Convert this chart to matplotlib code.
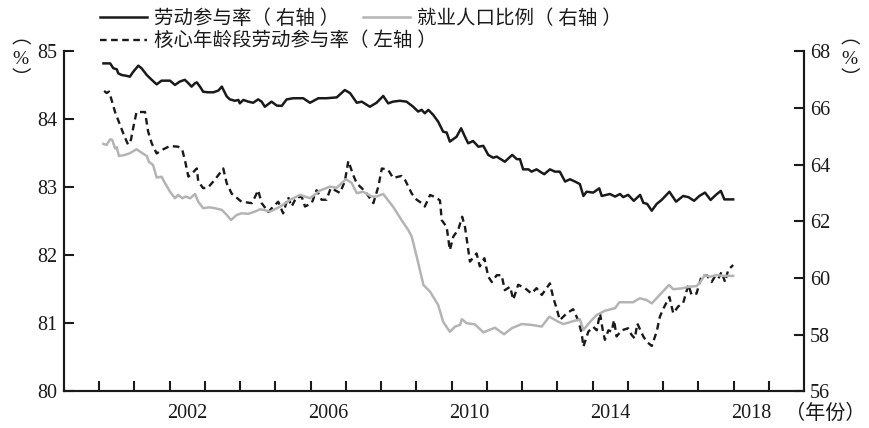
import matplotlib
matplotlib.use('Agg')
import matplotlib.pyplot as plt
from matplotlib.lines import Line2D

plt.rcParams['font.family'] = ['Liberation Serif', 'Noto Sans CJK SC']

# 劳动参与率（右轴）
lfpr_t = [2000.12, 2000.31, 2000.40, 2000.50, 2000.54, 2000.64, 2000.78, 2000.87, 2000.97, 2001.11,
          2001.20, 2001.35, 2001.49, 2001.63, 2001.77, 2001.91, 2002.01, 2002.15, 2002.29, 2002.43,
          2002.53, 2002.62, 2002.72, 2002.77, 2002.86, 2002.95, 2003.09, 2003.24, 2003.38, 2003.48,
          2003.62, 2003.71, 2003.85, 2003.95, 2003.99, 2004.09, 2004.23, 2004.37, 2004.51, 2004.61,
          2004.70, 2004.89, 2005.04, 2005.18, 2005.32, 2005.51, 2005.79, 2005.98, 2006.22, 2006.45,
          2006.74, 2006.97, 2007.12, 2007.31, 2007.45, 2007.68, 2007.87, 2008.06, 2008.20, 2008.34,
          2008.53, 2008.72, 2008.91, 2009.05, 2009.15, 2009.24, 2009.34, 2009.48, 2009.62, 2009.76,
          2009.86, 2009.95, 2010.14, 2010.27, 2010.38, 2010.47, 2010.61, 2010.76, 2010.90, 2011.04,
          2011.18, 2011.28, 2011.51, 2011.72, 2011.85, 2011.94, 2012.03, 2012.18, 2012.27, 2012.41,
          2012.56, 2012.63, 2012.79, 2012.93, 2013.07, 2013.22, 2013.36, 2013.50, 2013.64, 2013.74,
          2013.83, 2014.02, 2014.19, 2014.26, 2014.49, 2014.64, 2014.78, 2014.87, 2015.01, 2015.17,
          2015.35, 2015.44, 2015.55, 2015.68, 2015.82, 2015.96, 2016.18, 2016.37, 2016.57, 2016.72,
          2016.88, 2017.03, 2017.19, 2017.35, 2017.50, 2017.64, 2017.74, 2017.99]
lfpr = [67.58, 67.58, 67.41, 67.37, 67.23, 67.17, 67.14, 67.11, 67.29, 67.50,
        67.41, 67.17, 67.00, 66.84, 66.97, 66.97, 66.97, 66.82, 66.94, 67.00,
        66.88, 66.76, 66.88, 66.91, 66.76, 66.58, 66.56, 66.56, 66.62, 66.76,
        66.41, 66.31, 66.26, 66.29, 66.17, 66.29, 66.23, 66.19, 66.31, 66.23,
        66.05, 66.23, 66.09, 66.08, 66.31, 66.35, 66.35, 66.19, 66.35, 66.35,
        66.38, 66.64, 66.53, 66.19, 66.23, 66.05, 66.19, 66.43, 66.17, 66.23,
        66.26, 66.23, 66.05, 65.88, 65.94, 65.82, 65.94, 65.76, 65.52, 65.17,
        65.14, 64.82, 64.99, 65.29, 64.99, 64.76, 64.84, 64.64, 64.67, 64.35,
        64.25, 64.29, 64.11, 64.35, 64.20, 64.20, 63.84, 63.84, 63.76, 63.84,
        63.72, 63.67, 63.84, 63.76, 63.76, 63.41, 63.49, 63.41, 63.32, 62.90,
        63.05, 63.02, 63.17, 62.90, 62.97, 62.88, 62.97, 62.86, 62.94, 62.73,
        62.94, 62.66, 62.62, 62.38, 62.62, 62.76, 63.05, 62.70, 62.90, 62.86,
        62.73, 62.90, 63.02, 62.76, 62.94, 63.08, 62.78, 62.78]

# 就业人口比例（右轴）
epop_t = [2000.12, 2000.21, 2000.31, 2000.37, 2000.45, 2000.50, 2000.56, 2000.73, 2000.87, 2001.06,
          2001.20, 2001.35, 2001.41, 2001.53, 2001.63, 2001.77, 2001.87, 2002.01, 2002.15, 2002.24,
          2002.36, 2002.45, 2002.58, 2002.72, 2002.81, 2002.95, 2003.14, 2003.28, 2003.48, 2003.62,
          2003.74, 2003.90, 2004.04, 2004.23, 2004.42, 2004.56, 2004.66, 2004.85, 2005.13, 2005.41,
          2005.70, 2005.98, 2006.26, 2006.55, 2006.74, 2007.00, 2007.16, 2007.31, 2007.49, 2007.73,
          2007.87, 2008.06, 2008.34, 2008.58, 2008.77, 2008.87, 2009.01, 2009.20, 2009.39, 2009.62,
          2009.76, 2009.95, 2010.10, 2010.24, 2010.29, 2010.43, 2010.66, 2010.90, 2011.23, 2011.49,
          2011.70, 2011.99, 2012.27, 2012.56, 2012.77, 2013.03, 2013.17, 2013.64, 2013.74, 2013.93,
          2014.12, 2014.35, 2014.64, 2014.76, 2015.15, 2015.34, 2015.53, 2015.68, 2016.17, 2016.29,
          2016.53, 2016.76, 2016.95, 2017.03, 2017.19, 2017.33, 2017.52, 2017.71, 2017.99]
epop = [64.74, 64.70, 64.90, 64.88, 64.58, 64.62, 64.31, 64.35, 64.41, 64.55,
        64.43, 64.31, 64.11, 63.99, 63.55, 63.58, 63.35, 63.05, 62.82, 62.94,
        62.82, 62.88, 62.82, 62.97, 62.70, 62.47, 62.50, 62.47, 62.41, 62.23,
        62.05, 62.23, 62.29, 62.27, 62.35, 62.43, 62.41, 62.35, 62.52, 62.76,
        62.94, 62.82, 63.09, 63.23, 63.19, 63.49, 63.37, 63.00, 63.05, 62.88,
        62.88, 62.97, 62.52, 62.05, 61.70, 61.46, 60.76, 59.76, 59.52, 59.05,
        58.46, 58.11, 58.29, 58.35, 58.55, 58.41, 58.37, 58.09, 58.25, 58.02,
        58.23, 58.38, 58.35, 58.29, 58.64, 58.46, 58.38, 58.55, 58.17, 58.46,
        58.70, 58.85, 58.94, 59.15, 59.15, 59.29, 59.23, 59.11, 59.76, 59.61,
        59.64, 59.70, 59.72, 59.82, 60.11, 60.05, 60.11, 60.08, 60.08]

# 核心年龄段劳动参与率（左轴）
prime_t = [2000.14, 2000.21, 2000.28, 2000.35, 2000.45, 2000.59, 2000.71, 2000.82, 2000.90, 2000.97,
           2001.06, 2001.30, 2001.39, 2001.49, 2001.63, 2001.77, 2002.01, 2002.24, 2002.36, 2002.45,
           2002.53, 2002.64, 2002.77, 2002.81, 2002.95, 2003.09, 2003.24, 2003.38, 2003.52, 2003.62,
           2003.76, 2004.04, 2004.33, 2004.42, 2004.51, 2004.61, 2004.80, 2004.94, 2005.08, 2005.22,
           2005.36, 2005.46, 2005.60, 2005.75, 2005.84, 2006.03, 2006.17, 2006.31, 2006.45, 2006.57,
           2006.69, 2006.83, 2006.97, 2007.07, 2007.21, 2007.31, 2007.45, 2007.59, 2007.78, 2007.92,
           2008.02, 2008.20, 2008.34, 2008.58, 2008.68, 2008.87, 2009.01, 2009.15, 2009.24, 2009.39,
           2009.53, 2009.67, 2009.72, 2009.86, 2009.95, 2010.05, 2010.19, 2010.30, 2010.38, 2010.52,
           2010.71, 2010.80, 2010.93, 2011.04, 2011.14, 2011.28, 2011.42, 2011.51, 2011.66, 2011.75,
           2011.89, 2012.08, 2012.27, 2012.41, 2012.56, 2012.79, 2012.88, 2012.98, 2013.07, 2013.27,
           2013.45, 2013.59, 2013.69, 2013.74, 2013.88, 2014.02, 2014.12, 2014.21, 2014.29, 2014.35,
           2014.45, 2014.54, 2014.61, 2014.68, 2014.83, 2015.01, 2015.11, 2015.20, 2015.27, 2015.44,
           2015.54, 2015.68, 2015.82, 2015.91, 2016.01, 2016.18, 2016.29, 2016.43, 2016.57, 2016.72,
           2016.81, 2016.95, 2017.10, 2017.24, 2017.38, 2017.47, 2017.57, 2017.66, 2017.76, 2017.85,
           2017.99]
prime = [84.42, 84.39, 84.41, 84.29, 84.11, 83.92, 83.76, 83.63, 83.70, 83.89,
         84.11, 84.11, 83.82, 83.65, 83.50, 83.55, 83.61, 83.60, 83.55, 83.36,
         83.16, 83.21, 83.28, 83.09, 82.99, 83.00, 83.09, 83.18, 83.28, 83.06,
         82.91, 82.79, 82.77, 82.86, 82.96, 82.77, 82.64, 82.72, 82.79, 82.62,
         82.86, 82.72, 82.86, 82.86, 82.72, 82.77, 82.96, 82.82, 82.82, 82.99,
         82.96, 82.92, 83.09, 83.39, 83.18, 83.06, 82.99, 82.91, 82.77, 83.01,
         83.28, 83.26, 83.14, 83.17, 83.11, 82.91, 82.82, 82.77, 82.72, 82.89,
         82.86, 82.81, 82.52, 82.42, 82.08, 82.28, 82.38, 82.57, 82.42, 81.91,
         82.03, 81.84, 81.96, 81.69, 81.61, 81.71, 81.71, 81.49, 81.54, 81.35,
         81.57, 81.52, 81.44, 81.52, 81.42, 81.59, 81.39, 81.22, 81.05, 81.15,
         81.21, 81.05, 80.86, 80.66, 80.88, 80.95, 80.90, 81.15, 80.90, 80.76,
         80.90, 80.88, 81.05, 80.81, 80.90, 80.93, 80.83, 80.78, 81.00, 80.81,
         80.73, 80.67, 80.88, 81.10, 81.22, 81.39, 81.15, 81.25, 81.30, 81.57,
         81.42, 81.44, 81.71, 81.71, 81.61, 81.69, 81.66, 81.76, 81.61, 81.79,
         81.86]

year_ticks = list(range(2000, 2020))
year_labels = ['2002', '2006', '2010', '2014', '2018']
label_pos = [2002.5, 2006.5, 2010.5, 2014.5, 2018.5]

fig = plt.figure(figsize=(8.69, 4.28), dpi=100)
ax = fig.add_axes([0.0736, 0.0853, 0.8516, 0.7944])
ax2 = ax.twinx()

ax.plot(prime_t, prime, color='#1a1a1a', lw=1.7, linestyle=(0, (2.8, 1.9)))
ax2.plot(lfpr_t, lfpr, color='#1a1a1a', lw=1.8)
ax2.plot(epop_t, epop, color='#b4b4b4', lw=1.8)

ax.set_xlim(1999, 2020)
ax.set_ylim(80, 85)
ax2.set_ylim(56, 68)
ax.set_yticks(range(80, 86))
ax2.set_yticks(range(56, 69, 2))
ax.set_xticks(year_ticks)
ax.set_xticklabels([])
ax.set_xticks(label_pos, labels=year_labels, minor=True)

for a in (ax, ax2):
    a.spines['top'].set_visible(False)
    for s in ('left', 'right', 'bottom'):
        a.spines[s].set_linewidth(1.5)
        a.spines[s].set_color('#1a1a1a')
    a.tick_params(axis='both', which='major', direction='in', length=7, width=1.5,
                  labelsize=14.5, color='#1a1a1a', labelcolor='#1a1a1a')
ax.tick_params(axis='y', pad=5)
ax2.tick_params(axis='y', pad=4.5)
ax.tick_params(axis='x', which='minor', length=0, pad=9, labelsize=14.5, labelcolor='#1a1a1a')

fig.text(0.996, 0.033, '（年份）', fontsize=14.5, ha='right', va='center', color='#1a1a1a')
# 纵轴单位（竖排）
for xu in (0.024, 0.978):
    fig.text(xu, 0.91, '︵', fontsize=14, ha='center', va='center', color='#1a1a1a')
    fig.text(xu, 0.862, '%', fontsize=14, ha='center', va='center', color='#1a1a1a')
    fig.text(xu, 0.815, '︶', fontsize=14, ha='center', va='center', color='#1a1a1a')

h1 = Line2D([], [], color='#1a1a1a', lw=1.8)
h2 = Line2D([], [], color='#b4b4b4', lw=1.8)
h3 = Line2D([], [], color='#1a1a1a', lw=1.7, linestyle=(0, (2.8, 1.9)))
fig.legend([h1, h2], ['劳动参与率（ 右轴 ）', '就业人口比例（ 右轴 ）'], loc='upper left',
           bbox_to_anchor=(0.115, 0.979), ncol=2, frameon=False, fontsize=14,
           handlelength=2.4, handletextpad=0.4, columnspacing=1.2,
           borderpad=0, borderaxespad=0)
fig.legend([h3], ['核心年龄段劳动参与率（ 左轴 ）'], loc='upper left',
           bbox_to_anchor=(0.115, 0.926), frameon=False, fontsize=14,
           handlelength=2.4, handletextpad=0.4, borderpad=0, borderaxespad=0)
for leg in fig.legends:
    for t in leg.get_texts():
        t.set_color('#1a1a1a')

fig.savefig('out.png', dpi=100)
